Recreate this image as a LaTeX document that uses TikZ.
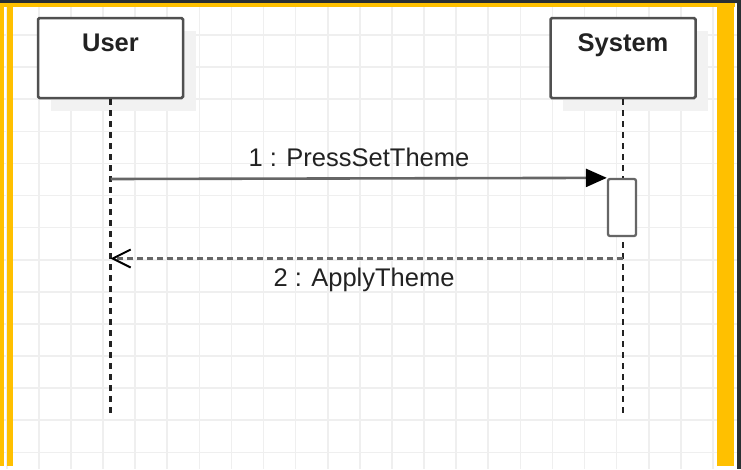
\documentclass[tikz,border=0pt]{standalone}
\usepackage{fontspec}
\setmainfont{Liberation Sans}
\usetikzlibrary{arrows.meta,calc}
\definecolor{frameyellow}{HTML}{FFC000}
\definecolor{darkbar}{HTML}{2A2F33}
\definecolor{gridgray}{HTML}{EFEFEF}
\definecolor{shadowgray}{HTML}{F2F2F2}
\definecolor{boxborder}{HTML}{505050}
\definecolor{msggray}{HTML}{666666}
\definecolor{txt}{HTML}{222222}
\tikzset{
  actorbox/.style={draw=boxborder, line width=2.5pt, fill=white, rounded corners=1.5pt,
    minimum width=145pt, minimum height=80pt, inner sep=0pt},
  actortext/.style={anchor=base, font=\fontsize{25.5}{30}\selectfont\bfseries, text=txt, inner sep=0pt},
  lifeline/.style={draw=txt, line width=2.3pt, dash pattern=on 6pt off 5pt},
  activation/.style={draw=msggray, line width=2.3pt, fill=white, rounded corners=2pt,
    minimum width=28pt, minimum height=57pt, inner sep=0pt},
  callmsg/.style={draw=msggray, line width=2.6pt, -{Triangle[length=21pt,width=18pt,color=black,fill=black]}},
  replymsg/.style={draw=msggray, line width=2.4pt, dash pattern=on 6pt off 4pt,
    -{Straight Barb[length=18pt,width=18pt,line width=2pt,color=black]}},
  msgtext/.style={anchor=base, font=\fontsize{25.5}{30}\selectfont, text=txt, inner sep=0pt},
  gridline/.style={draw=gridgray, line width=1.6pt}
}
\begin{document}
\begin{tikzpicture}[x=1pt,y=-1pt]
\useasboundingbox (0,0) rectangle (741,469);
\fill[white] (0,0) rectangle (741,469);
% grid
\foreach \i in {0,...,22} \draw[gridline] ({6.7+32.1*\i},0) -- ({6.7+32.1*\i},469);
\foreach \j in {0,...,14} \draw[gridline] (0,{2.9+32.1*\j}) -- (741,{2.9+32.1*\j});
% frame
\fill[darkbar] (0,0) rectangle (741,3);
\fill[darkbar] (737,0) rectangle (741,469);
\fill[frameyellow] (0,3) rectangle (735,7);
\fill[frameyellow] (0,3) rectangle (4.3,466);
\fill[frameyellow] (7.3,3) rectangle (13.3,466);
\fill[frameyellow] (716.7,3) rectangle (734.3,466);
% shadows
\fill[shadowgray] (50.5,31) rectangle (195.5,111);
\fill[shadowgray] (563,31) rectangle (708,111);
% actors
\node[actorbox] (user) at (110.5,58) {};
\node[actorbox] (system) at (623,58) {};
\node[actortext] (usertext) at ($(user.north)+(0,35)$) {User};
\node[actortext] (systemtext) at ($(system.north)+(0,35)$) {System};
% lifeline ends
\coordinate (userend) at (110.5,418);
\coordinate (systemend) at (623,418);
\draw[lifeline] (user.south) -- (userend);
\draw[lifeline] (system.south) -- (systemend);
% activation
\node[activation] (act) at (622,207.5) {};
% messages
\coordinate (m1start) at (110.5,179);
\draw[callmsg] (m1start) -- (act.north west);
\node[msgtext] (m1text) at (359,166.7) {1 : PressSetTheme};
\coordinate (m2start) at (623,258.5);
\coordinate (m2end) at (110.5,258.5);
\draw[replymsg] (m2start) -- (m2end);
\node[msgtext] (m2text) at (364,286.7) {2 : ApplyTheme};
\end{tikzpicture}
\end{document}
